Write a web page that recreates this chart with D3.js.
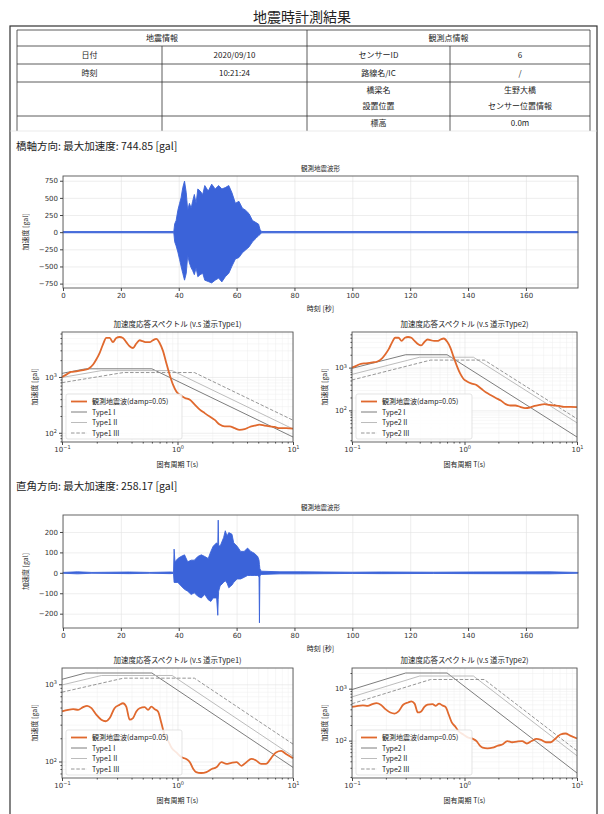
<!DOCTYPE html>
<html lang="ja">
<head>
<meta charset="utf-8">
<script src="https://cdn.jsdelivr.net/npm/d3@7"></script>
<style>
body { margin: 0; background: #fff; }
text { font-family: "Noto Sans CJK JP", "DejaVu Sans", sans-serif; fill: #222; }
.tick text { font-family: "DejaVu Sans", sans-serif; font-size: 7px; fill: #333; }
.tick line { stroke: #444; }
.grid line { stroke: #e2e2e2; stroke-width: 0.6; }
.grid.minor line { stroke: #eeeeee; stroke-width: 0.5; }
.grid path { display: none; }
</style>
</head>
<body>
<svg width="604" height="814"></svg>
<script>

// ---- data ----
var tableHead = ["地震情報", "観測点情報"];
var tableRows = [
  ["日付", "2020/09/10", "センサーID", "6"],
  ["時刻", "10:21:24", "路線名/IC", "/"],
  ["", "", "橋梁名", "生野大橋"],
  ["", "", "設置位置", "センサー位置情報"],
  ["", "", "標高", "0.0m"]
];

var headings = ["橋軸方向: 最大加速度: 744.85 [gal]", "直角方向: 最大加速度: 258.17 [gal]"];

// waveform envelopes (time [s], upper / lower acceleration [gal])
var wave1T  = [0, 38.3, 38.6, 39.1, 39.7, 40.3, 40.8, 41.4, 42.0, 42.6, 43.1, 43.7, 44.3, 44.8, 45.4, 46.0, 46.6, 47.4, 48.3, 49.0, 50.2, 51.4, 52.6, 53.8, 54.9, 56.1, 57.3, 58.4, 59.6, 60.8, 62.0, 63.1, 64.3, 65.5, 66.7, 67.6, 68.1, 68.6, 178];
var wave1Up = [8, 10, 120, 170, 320, 420, 500, 650, 745, 575, 320, 420, 350, 450, 550, 420, 630, 600, 550, 680, 600, 700, 630, 680, 630, 650, 680, 575, 420, 450, 350, 320, 270, 170, 140, 117, 40, 10, 8];
var wave1Lo = [-8, -10, -140, -200, -290, -400, -495, -600, -700, -600, -340, -450, -520, -560, -620, -520, -650, -620, -600, -700, -720, -740, -700, -670, -725, -650, -600, -495, -390, -370, -300, -260, -215, -140, -90, -50, -35, -10, -8];

var wave2T  = [0, 5, 10, 23, 30, 37, 38.2, 38.4, 38.7, 39.7, 40.8, 42.0, 43.1, 44.3, 45.4, 46.6, 47.8, 49.0, 50.2, 51.1, 51.9, 53.1, 53.5, 53.65, 53.8, 54.3, 55.5, 56.1, 56.7, 57.3, 58.4, 59.0, 60.2, 61.4, 62.6, 63.8, 64.9, 66.1, 67.3, 67.75, 67.9, 68.05, 68.5, 75, 82, 100, 110, 128, 142, 168, 178];
var wave2Up = [2, 5, 2, 4, 2, 4, 3, 116, 54, 70, 80, 88, 54, 62, 62, 80, 88, 80, 70, 105, 130, 147, 140, 258, 135, 130, 172, 206, 180, 197, 189, 147, 130, 105, 105, 121, 105, 96, 80, 62, 40, 20, 8, 5, 5, 3, 4, 3, 4, 5, 2];
var wave2Lo = [-2, -5, -2, -4, -2, -4, -3, -47, -47, -47, -64, -81, -90, -106, -98, -115, -123, -106, -132, -140, -123, -123, -208, -130, -90, -64, -47, -39, -50, -73, -60, -47, -30, -30, -22, -13, -13, -13, -13, -20, -245, -15, -8, -5, -5, -3, -4, -3, -4, -5, -2];

var waveXTicks = [0, 20, 40, 60, 80, 100, 120, 140, 160];
var wave1YTicks = [-750, -500, -250, 0, 250, 500, 750];
var wave2YTicks = [-200, -100, 0, 100, 200];

// observed response spectra (period T [s], Sa [gal])
var spec1T = [0.1, 0.109, 0.12, 0.133, 0.152, 0.168, 0.186, 0.198, 0.212, 0.226, 0.242, 0.259, 0.276, 0.295, 0.315, 0.337, 0.36, 0.385, 0.412, 0.44, 0.47, 0.5, 0.536, 0.574, 0.613, 0.655, 0.7, 0.75, 0.8, 0.855, 0.914, 0.977, 1.045, 1.16, 1.28, 1.41, 1.56, 1.72, 1.9, 2.1, 2.32, 2.56, 2.83, 3.12, 3.45, 3.81, 4.21, 4.65, 5.14, 5.68, 6.27, 6.93, 7.65, 8.75, 10];
var spec1S = [1000, 1100, 1230, 1260, 1320, 1390, 1670, 2050, 2700, 3800, 5000, 5000, 4200, 5000, 5200, 5000, 4200, 3550, 3300, 3970, 4550, 4370, 4200, 4200, 4550, 4800, 4070, 2900, 1780, 1100, 730, 550, 480, 420, 390, 320, 260, 225, 195, 170, 140, 130, 130, 121, 113, 116, 127, 134, 140, 134, 130, 127, 121, 121, 119];

var spec2T = [0.1, 0.113, 0.125, 0.138, 0.152, 0.165, 0.18, 0.198, 0.219, 0.239, 0.259, 0.285, 0.315, 0.337, 0.36, 0.385, 0.412, 0.44, 0.47, 0.52, 0.556, 0.594, 0.635, 0.678, 0.725, 0.77, 0.83, 0.885, 0.977, 1.08, 1.19, 1.28, 1.37, 1.45, 1.6, 1.78, 1.98, 2.17, 2.4, 2.65, 2.93, 3.25, 3.58, 3.95, 4.36, 4.8, 5.3, 5.85, 6.45, 7.12, 7.9, 8.7, 10];
var spec2S = [445, 467, 476, 467, 505, 525, 490, 404, 348, 332, 365, 490, 541, 568, 515, 348, 365, 445, 490, 505, 467, 515, 476, 445, 315, 225, 185, 152, 131, 114, 108, 98, 80, 73, 71, 73, 80, 84, 98, 93, 96, 98, 88, 98, 108, 103, 93, 93, 110, 131, 137, 125, 110];

// design spectra corner points [T, Sa]
var type1I   = [[0.1, 1160], [0.16, 1400], [0.6, 1400], [10, 84]];
var type1II  = [[0.1, 980], [0.22, 1300], [0.9, 1300], [10, 117]];
var type1III = [[0.1, 790], [0.34, 1200], [1.4, 1200], [10, 168]];
var type2I   = [[0.1, 961], [0.3, 2000], [0.7, 2000], [10, 23.8]];
var type2II  = [[0.1, 694], [0.4, 1750], [1.2, 1750], [10, 51]];
var type2III = [[0.1, 513], [0.5, 1500], [1.5, 1500], [10, 63.5]];
var groundNames = ["I", "II", "III"];

// ---- drawing ----
var svg = d3.select("svg");
var blue = "#3b63d9", orange = "#e0692e";

svg.append("text").attr("x", 302).attr("y", 22).attr("text-anchor", "middle")
    .attr("font-size", 14).text("地震時計測結果");

svg.append("rect").attr("x", 10).attr("y", 26).attr("width", 587).attr("height", 800)
    .attr("fill", "none").attr("stroke", "#333").attr("stroke-width", 1.2);

// table
var colX = [17, 162, 307, 450, 590], rowY = [30, 46, 64, 82, 116, 132];
var tg = svg.append("g").attr("stroke", "#333").attr("stroke-width", 0.8);
rowY.slice(0, 5).forEach(function(y) {
  tg.append("line").attr("x1", colX[0]).attr("x2", colX[4]).attr("y1", y).attr("y2", y);
});
colX.forEach(function(x, i) {
  tg.append("line").attr("x1", x).attr("x2", x)
    .attr("y1", (i == 1 || i == 3) ? rowY[1] : rowY[0]).attr("y2", 131);
});
tableHead.forEach(function(h, i) {
  svg.append("text").attr("x", (colX[i * 2] + colX[i * 2 + 2]) / 2).attr("y", 41)
    .attr("text-anchor", "middle").attr("font-size", 8).text(h);
});
var textY = [58, 76, 93, 109, 126];
tableRows.forEach(function(r, j) {
  r.forEach(function(c, i) {
    svg.append("text").attr("x", (colX[i] + colX[i + 1]) / 2).attr("y", textY[j])
      .attr("text-anchor", "middle").attr("font-size", 8).text(c);
  });
});

svg.append("line").attr("x1", 10).attr("x2", 597).attr("y1", 131).attr("y2", 131)
    .attr("stroke", "#ddd").attr("stroke-width", 0.6);

svg.append("text").attr("x", 16).attr("y", 150).attr("font-size", 10.5).attr("fill", "#333").text(headings[0]);
svg.append("text").attr("x", 16).attr("y", 490).attr("font-size", 10.5).attr("fill", "#333").text(headings[1]);

function drawWave(o) {
  var x = d3.scaleLinear().domain([0, 178]).range([o.left, o.right]);
  var ext = d3.extent(o.up.concat(o.lo)), m = (ext[1] - ext[0]) * 0.05;
  var y = d3.scaleLinear().domain([ext[0] - m, ext[1] + m]).range([o.bottom, o.top]);
  var h = o.bottom - o.top, w = o.right - o.left;
  var g = svg.append("g");

  g.append("g").attr("class", "grid").attr("transform", "translate(0," + o.bottom + ")")
    .call(d3.axisBottom(x).tickValues(waveXTicks).tickSize(-h).tickFormat(""));
  g.append("g").attr("class", "grid").attr("transform", "translate(" + o.left + ",0)")
    .call(d3.axisLeft(y).tickValues(o.yticks).tickSize(-w).tickFormat(""));

  var pts = o.t.map(function(t, i) { return [t, o.up[i], o.lo[i]]; });
  g.append("path").datum(pts)
    .attr("fill", blue).attr("stroke", blue).attr("stroke-width", 0.9).attr("stroke-linejoin", "round")
    .attr("d", d3.area().x(function(d) { return x(d[0]); })
      .y0(function(d) { return y(d[2]); }).y1(function(d) { return y(d[1]); }));

  g.append("rect").attr("x", o.left).attr("y", o.top).attr("width", w).attr("height", h)
    .attr("fill", "none").attr("stroke", "#555").attr("stroke-width", 0.9);

  var xa = g.append("g").attr("transform", "translate(0," + o.bottom + ")")
    .call(d3.axisBottom(x).tickValues(waveXTicks).tickSize(3).tickPadding(2));
  var ya = g.append("g").attr("transform", "translate(" + o.left + ",0)")
    .call(d3.axisLeft(y).tickValues(o.yticks).tickSize(3).tickPadding(2).tickFormat(function(d) { return d < 0 ? "−" + (-d) : d; }));
  xa.select(".domain").remove(); ya.select(".domain").remove();

  g.append("text").attr("x", (o.left + o.right) / 2).attr("y", o.top - 5)
    .attr("text-anchor", "middle").attr("font-size", 6.5).text("観測地震波形");
  g.append("text").attr("x", (o.left + o.right) / 2).attr("y", o.bottom + 23)
    .attr("text-anchor", "middle").attr("font-size", 7).text("時刻 [秒]");
  g.append("text").attr("transform", "translate(" + (o.left - 35) + "," + (o.top + h / 2) + ") rotate(-90)")
    .attr("text-anchor", "middle").attr("font-size", 7).text("加速度 [gal]");
}

function logDomain(vals) {
  var lo = Math.log10(d3.min(vals)), hi = Math.log10(d3.max(vals)), m = (hi - lo) * 0.05;
  return [Math.pow(10, lo - m), Math.pow(10, hi + m)];
}

function supLabels(sel) {
  sel.selectAll(".tick text").each(function(d) {
    var e = Math.round(Math.log10(d)), t = d3.select(this);
    t.text("10");
    t.append("tspan").attr("dy", "-0.55em").attr("font-size", "5px").text(e < 0 ? "−" + (-e) : e);
  });
}

function drawSpectrum(o) {
  var x = d3.scaleLog().domain([0.1, 10]).range([o.left, o.right]);
  var all = o.S.slice();
  o.types.forEach(function(tp) { tp.forEach(function(p) { all.push(p[1]); }); });
  var y = d3.scaleLog().domain(logDomain(all)).range([o.bottom, o.top]);
  var h = o.bottom - o.top, w = o.right - o.left;
  var g = svg.append("g");

  var minorX = [], minorY = [], majorY = [];
  [-1, 0].forEach(function(e) { for (var k = 2; k < 10; k++) minorX.push(k * Math.pow(10, e)); });
  var yd = y.domain();
  for (var e = 0; e < 5; e++) {
    var p = Math.pow(10, e);
    if (p >= yd[0] && p <= yd[1]) majorY.push(p);
    for (var k = 2; k < 10; k++) { var v = k * p; if (v >= yd[0] && v <= yd[1]) minorY.push(v); }
  }

  g.append("g").attr("class", "grid minor").attr("transform", "translate(0," + o.bottom + ")")
    .call(d3.axisBottom(x).tickValues(minorX).tickSize(-h).tickFormat(""));
  g.append("g").attr("class", "grid minor").attr("transform", "translate(" + o.left + ",0)")
    .call(d3.axisLeft(y).tickValues(minorY).tickSize(-w).tickFormat(""));
  g.append("g").attr("class", "grid").attr("transform", "translate(0," + o.bottom + ")")
    .call(d3.axisBottom(x).tickValues([0.1, 1, 10]).tickSize(-h).tickFormat(""));
  g.append("g").attr("class", "grid").attr("transform", "translate(" + o.left + ",0)")
    .call(d3.axisLeft(y).tickValues(majorY).tickSize(-w).tickFormat(""));

  var line = d3.line().x(function(d) { return x(d[0]); }).y(function(d) { return y(d[1]); });
  var styles = [
    { color: "#6e6e6e", dash: null },
    { color: "#b4b4b4", dash: null },
    { color: "#8a8a8a", dash: "3.5,1.8" }
  ];
  o.types.forEach(function(tp, i) {
    g.append("path").datum(tp).attr("fill", "none").attr("stroke", styles[i].color)
      .attr("stroke-width", 0.9).attr("stroke-dasharray", styles[i].dash).attr("d", line);
  });
  var obs = o.T.map(function(t, i) { return [t, o.S[i]]; });
  g.append("path").datum(obs).attr("fill", "none").attr("stroke", orange).attr("stroke-width", 1.8)
    .attr("d", line.curve(d3.curveMonotoneX));

  g.append("rect").attr("x", o.left).attr("y", o.top).attr("width", w).attr("height", h)
    .attr("fill", "none").attr("stroke", "#555").attr("stroke-width", 0.9);

  var xa = g.append("g").attr("transform", "translate(0," + o.bottom + ")")
    .call(d3.axisBottom(x).tickValues([0.1, 1, 10]).tickSize(3).tickPadding(2));
  var ya = g.append("g").attr("transform", "translate(" + o.left + ",0)")
    .call(d3.axisLeft(y).tickValues(majorY).tickSize(3).tickPadding(2));
  xa.select(".domain").remove(); ya.select(".domain").remove();
  supLabels(xa); supLabels(ya);
  g.append("g").attr("transform", "translate(0," + o.bottom + ")")
    .call(d3.axisBottom(x).tickValues(minorX).tickSize(1.5).tickFormat("")).select(".domain").remove();
  g.append("g").attr("transform", "translate(" + o.left + ",0)")
    .call(d3.axisLeft(y).tickValues(minorY).tickSize(1.5).tickFormat("")).select(".domain").remove();

  g.append("text").attr("x", (o.left + o.right) / 2).attr("y", o.top - 5)
    .attr("text-anchor", "middle").attr("font-size", 7.5).text("加速度応答スペクトル (v.s 道示" + o.typeName + ")");
  g.append("text").attr("x", (o.left + o.right) / 2).attr("y", o.bottom + 25)
    .attr("text-anchor", "middle").attr("font-size", 7).text("固有周期 T(s)");
  g.append("text").attr("transform", "translate(" + (o.left - 25) + "," + (o.top + h / 2) + ") rotate(-90)")
    .attr("text-anchor", "middle").attr("font-size", 7).text("加速度 [gal]");

  // legend
  var lx = o.left + 4, ly = o.bottom - 48;
  var lg = g.append("g");
  lg.append("rect").attr("x", lx).attr("y", ly).attr("width", 116).attr("height", 45).attr("rx", 2)
    .attr("fill", "#fff").attr("fill-opacity", 0.85).attr("stroke", "#d8d8d8").attr("stroke-width", 0.7);
  var items = [{ label: "観測地震波(damp=0.05)", color: orange, width: 1.8, dash: null }];
  groundNames.forEach(function(n, i) {
    items.push({ label: o.typeName + " " + n, color: styles[i].color, width: 0.9, dash: styles[i].dash });
  });
  items.forEach(function(it, i) {
    var yy = ly + 7.5 + i * 10.5;
    lg.append("line").attr("x1", lx + 5).attr("x2", lx + 21).attr("y1", yy).attr("y2", yy)
      .attr("stroke", it.color).attr("stroke-width", it.width).attr("stroke-dasharray", it.dash);
    lg.append("text").attr("x", lx + 26).attr("y", yy + 2.5).attr("font-size", 7).text(it.label);
  });
}

drawWave({ left: 63, right: 578, top: 176, bottom: 288, t: wave1T, up: wave1Up, lo: wave1Lo, yticks: wave1YTicks });
drawWave({ left: 63, right: 578, top: 515, bottom: 628, t: wave2T, up: wave2Up, lo: wave2Lo, yticks: wave2YTicks });

drawSpectrum({ left: 62, right: 293, top: 332, bottom: 442, T: spec1T, S: spec1S, types: [type1I, type1II, type1III], typeName: "Type1" });
drawSpectrum({ left: 352, right: 577, top: 332, bottom: 442, T: spec1T, S: spec1S, types: [type2I, type2II, type2III], typeName: "Type2" });
drawSpectrum({ left: 62, right: 293, top: 668, bottom: 778, T: spec2T, S: spec2S, types: [type1I, type1II, type1III], typeName: "Type1" });
drawSpectrum({ left: 352, right: 577, top: 668, bottom: 778, T: spec2T, S: spec2S, types: [type2I, type2II, type2III], typeName: "Type2" });

</script>
</body>
</html>
